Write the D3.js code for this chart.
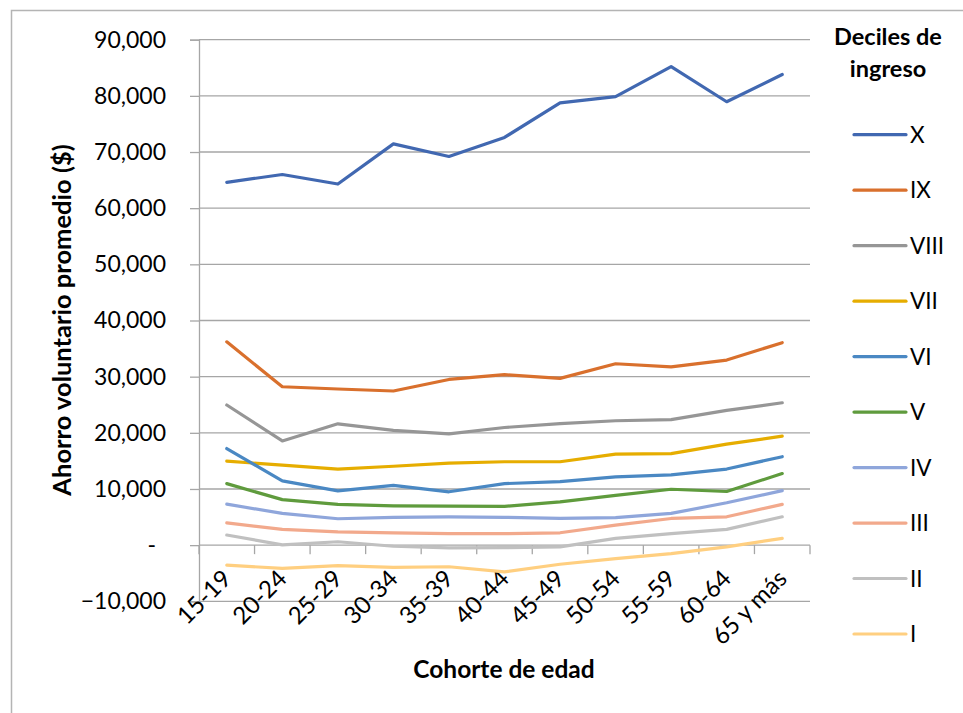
<!DOCTYPE html>
<html>
<head>
<meta charset="utf-8">
<script src="https://cdn.jsdelivr.net/npm/d3@7"></script>
<style>
  html, body { margin: 0; padding: 0; background: #ffffff; }
  svg { display: block; }
  text { font-family: Lato, "Open Sans", sans-serif; fill: #000; }
</style>
</head>
<body>
<svg id="chart" width="963" height="713"></svg>
<script>
// Age cohorts (x categories)
const cohorts = ["15-19", "20-24", "25-29", "30-34", "35-39", "40-44", "45-49", "50-54", "55-59", "60-64", "65 y más"];

// Income deciles, legend order (top to bottom)
const deciles = ["X", "IX", "VIII", "VII", "VI", "V", "IV", "III", "II", "I"];

// Average voluntary savings per cohort, one array per decile
const decilX    = [64600, 66000, 64300, 71450, 69200, 72600, 78750, 79850, 85200, 78950, 83800];
const decilIX   = [36200, 28200, 27800, 27450, 29500, 30350, 29700, 32300, 31750, 32950, 36050];
const decilVIII = [24950, 18550, 21600, 20450, 19800, 20950, 21650, 22150, 22350, 24000, 25350];
const decilVII  = [14950, 14250, 13550, 14050, 14600, 14850, 14850, 16200, 16300, 18000, 19400];
const decilVI   = [17200, 11450,  9650, 10650,  9500, 10950, 11300, 12150, 12500, 13550, 15750];
const decilV    = [10950,  8100,  7250,  7000,  6950,  6900,  7700,  8850,  9950,  9550, 12750];
const decilIV   = [ 7300,  5650,  4700,  4950,  5050,  4950,  4750,  4900,  5650,  7550,  9700];
const decilIII  = [ 3950,  2800,  2350,  2200,  2050,  2050,  2200,  3550,  4750,  5050,  7250];
const decilII   = [ 1800,    50,   600,  -200,  -500,  -450,  -300,  1200,  2050,  2800,  5050];
const decilI    = [-3550, -4150, -3650, -3950, -3850, -4750, -3400, -2400, -1500,  -300,  1200];

const seriesValues = [decilX, decilIX, decilVIII, decilVII, decilVI, decilV, decilIV, decilIII, decilII, decilI];
const seriesColors = ["#4168b1", "#d9702d", "#969696", "#e6ad00", "#4a88c3", "#5f9b3d", "#8fa6db", "#f2a98c", "#c0c0c0", "#ffcf80"];

// Y axis ticks
const yTicks = [-10000, 0, 10000, 20000, 30000, 40000, 50000, 60000, 70000, 80000, 90000];

const svg = d3.select("#chart");

// Outer chart frame
svg.append("path")
  .attr("d", "M11.5,713 L11.5,10.5 L963,10.5")
  .attr("fill", "none")
  .attr("stroke", "#b4b4b4")
  .attr("stroke-width", 1.5);

const x = d3.scaleBand().domain(cohorts).range([199, 810]);
const y = d3.scaleLinear().domain([-10000, 90000]).range([601.3, 39.7]);
const cx = c => x(c) + x.bandwidth() / 2;

const fmt = d3.format(",");

// Horizontal gridlines
svg.append("g").selectAll("line")
  .data(yTicks)
  .join("line")
  .attr("x1", 199).attr("x2", 810)
  .attr("y1", d => y(d)).attr("y2", d => y(d))
  .attr("stroke", "#a6a6a6")
  .attr("stroke-width", 1.3);

// Y axis
const yAxis = svg.append("g")
  .attr("transform", "translate(199,0)")
  .call(d3.axisLeft(y).tickValues(yTicks).tickSize(9).tickPadding(24)
    .tickFormat(d => d === 0 ? "-" : fmt(d)));
yAxis.select(".domain").attr("stroke", "#a6a6a6").attr("stroke-width", 1.3);
yAxis.selectAll(".tick line").attr("stroke", "#a6a6a6").attr("stroke-width", 1.3);
yAxis.selectAll(".tick text")
  .attr("font-size", 23)
  .attr("font-family", "Lato, 'Open Sans', sans-serif")
  .attr("fill", "#000")
  .attr("dx", d => d === 0 ? -10 : 0);

// X axis along the zero line, ticks on category boundaries
const xAxisG = svg.append("g");
xAxisG.selectAll("line.tick")
  .data(cohorts.map(c => x(c)).concat([x.range()[1]]))
  .join("line")
  .attr("class", "tick")
  .attr("x1", d => d).attr("x2", d => d)
  .attr("y1", y(0)).attr("y2", y(0) + 9)
  .attr("stroke", "#a6a6a6")
  .attr("stroke-width", 1.3);

// Rotated category labels
svg.append("g").selectAll("text")
  .data(cohorts)
  .join("text")
  .attr("transform", c => `translate(${cx(c) + 6},${y(0) + 35}) rotate(-45)`)
  .attr("text-anchor", "end")
  .attr("font-size", 24)
  .text(c => c);

// Series lines
const line = d3.line()
  .x((d, i) => cx(cohorts[i]))
  .y(d => y(d));

svg.append("g").selectAll("path")
  .data(seriesValues)
  .join("path")
  .attr("d", d => line(d))
  .attr("fill", "none")
  .attr("stroke", (d, i) => seriesColors[i])
  .attr("stroke-width", 3.2)
  .attr("stroke-linejoin", "round")
  .attr("stroke-linecap", "round");

// Axis titles
svg.append("text")
  .attr("transform", `translate(71,320) rotate(-90)`)
  .attr("text-anchor", "middle")
  .attr("font-size", 25.5)
  .attr("font-weight", "bold")
  .text("Ahorro voluntario promedio ($)");

svg.append("text")
  .attr("x", 504).attr("y", 678)
  .attr("text-anchor", "middle")
  .attr("font-size", 24.5)
  .attr("font-weight", "bold")
  .text("Cohorte de edad");

// Legend
const legend = svg.append("g");
legend.append("text")
  .attr("x", 888).attr("y", 45)
  .attr("text-anchor", "middle")
  .attr("font-size", 23.5)
  .attr("font-weight", "bold")
  .text("Deciles de");
legend.append("text")
  .attr("x", 888).attr("y", 77)
  .attr("text-anchor", "middle")
  .attr("font-size", 23.5)
  .attr("font-weight", "bold")
  .text("ingreso");

const ly = d3.scalePoint().domain(deciles).range([134.7, 634]);
const items = legend.selectAll("g.item")
  .data(deciles)
  .join("g")
  .attr("class", "item")
  .attr("transform", d => `translate(0,${ly(d)})`);
items.append("line")
  .attr("x1", 854).attr("x2", 906)
  .attr("stroke", (d, i) => seriesColors[i])
  .attr("stroke-width", 3.2)
  .attr("stroke-linecap", "round");
items.append("text")
  .attr("x", 910).attr("y", 8)
  .attr("font-size", 22.5)
  .text(d => d);
</script>
</body>
</html>
